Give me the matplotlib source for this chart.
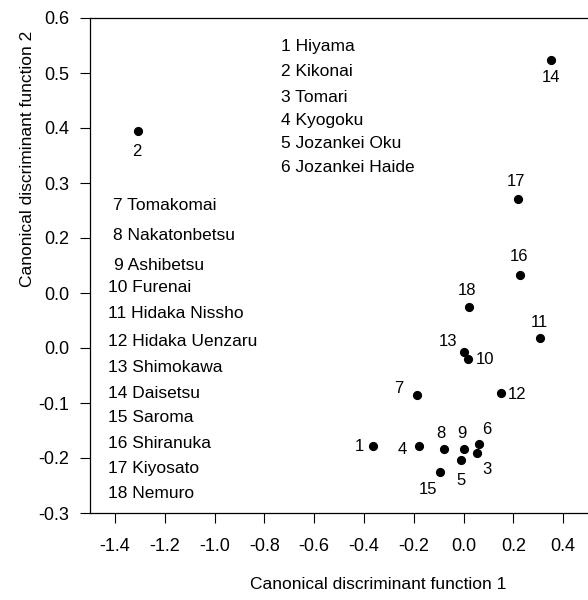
import numpy as np
import matplotlib
matplotlib.use("Agg")
from matplotlib import pyplot as plt

plt.rcParams['font.family'] = ['Liberation Sans', 'DejaVu Sans']

# site numbers and canonical discriminant scores
site_no = [1, 2, 3, 4, 5, 6, 7, 8, 9, 10, 11, 12, 13, 14, 15, 16, 17, 18]
cdf1 = [-0.363, -1.308, 0.053, -0.177, -0.012, 0.064, -0.187, -0.080, 0.004,
        0.020, 0.309, 0.151, 0.000, 0.352, -0.093, 0.228, 0.220, 0.023]
cdf2 = [-0.179, 0.395, -0.191, -0.179, -0.204, -0.175, -0.085, -0.184, -0.183,
        -0.020, 0.018, -0.082, -0.007, 0.524, -0.226, 0.133, 0.271, 0.074]
site_names = ['Hiyama', 'Kikonai', 'Tomari', 'Kyogoku', 'Jozankei Oku',
              'Jozankei Haide', 'Tomakomai', 'Nakatonbetsu', 'Ashibetsu',
              'Furenai', 'Hidaka Nissho', 'Hidaka Uenzaru', 'Shimokawa',
              'Daisetsu', 'Saroma', 'Shiranuka', 'Kiyosato', 'Nemuro']

x_ticks = [-1.4, -1.2, -1.0, -0.8, -0.6, -0.4, -0.2, 0.0, 0.2, 0.4]
x_ticklabels = ['-1.4', '-1.2', '-1.0', '-0.8', '-0.6', '-0.4', '-0.2', '0.0', '0.2', '0.4']
y_ticks = [0.6, 0.5, 0.4, 0.3, 0.2, 0.1, 0.0, -0.1, -0.2, -0.3]
y_ticklabels = ['0.6', '0.5', '0.4', '0.3', '0.2', '0.0', '0.0', '-0.1', '-0.2', '-0.3']

# label offsets from each point, in pixels (right, down)
lab_off = [(-14, 0), (-1, 21), (10, 16), (-17, 3), (1, 20), (7, -15), (-18, -6),
           (-3, -16), (-3, -15), (17, 0), (-1, -16), (16, 1), (-16, -10),
           (0, 18), (-12, 17), (-1, -18), (-2, -17), (-2, -17)]

# legend text rows: (left px, center px) in the figure
leg_x = [281] * 6 + [113, 113, 114] + [108] * 9
leg_y = [46, 72, 97, 120, 143, 168, 205, 236, 265, 288, 313, 342, 367, 393, 418, 443, 468, 493]

fig = plt.figure(figsize=(5.88, 6.0), dpi=100)
ax = fig.add_axes([90 / 588, 87 / 600, 498 / 588, 495 / 600])

ax.plot(cdf1, cdf2, 'o', color='black', markersize=5.6, linestyle='none')

k = 0.72  # px -> pt at 100 dpi
for i in range(len(site_no)):
    dx, dy = lab_off[i]
    ax.annotate(str(site_no[i]), (cdf1[i], cdf2[i]), xytext=(dx * k, -dy * k),
                textcoords='offset points', ha='center', va='center', fontsize=12)

for i in range(len(site_no)):
    fx = (leg_x[i] - 90) / 498
    fy = (513 - leg_y[i]) / 495
    ax.text(fx, fy, '%d %s' % (site_no[i], site_names[i]), transform=ax.transAxes,
            ha='left', va='center', fontsize=12.5)

ax.set_xlim(-1.5, 0.5)
ax.set_ylim(-0.3, 0.6)
ax.set_xticks(x_ticks)
ax.set_xticklabels(x_ticklabels)
ax.set_yticks(y_ticks)
ax.set_yticklabels(y_ticklabels)
ax.tick_params(axis='both', direction='out', length=7, width=0.8, labelsize=13)
ax.tick_params(axis='x', pad=11)
ax.tick_params(axis='y', pad=8)
ax.spines['right'].set_visible(False)
for s in ['left', 'bottom', 'top']:
    ax.spines[s].set_linewidth(0.9)

ax.set_xlabel('Canonical discriminant function 1', fontsize=12.5)
ax.set_ylabel('Canonical discriminant function 2', fontsize=12.5)
ax.xaxis.set_label_coords(0.578, -0.13)
ax.yaxis.set_label_coords(-0.11, 0.715)

fig.savefig('out.png', dpi=100)
